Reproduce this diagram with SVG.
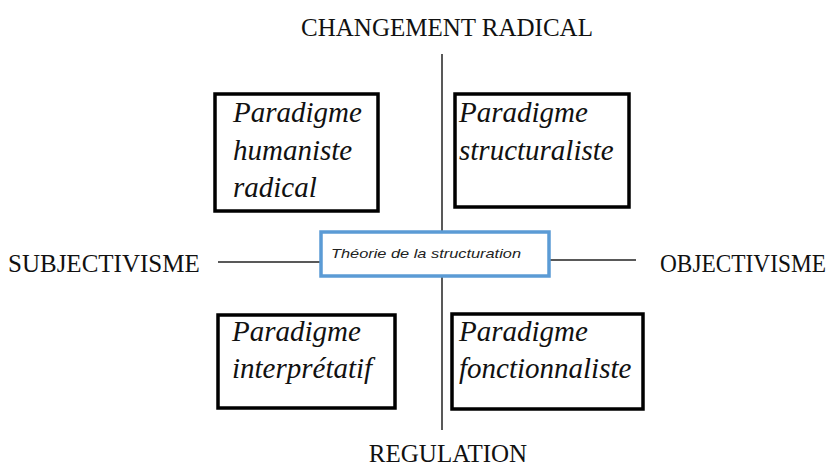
<svg xmlns="http://www.w3.org/2000/svg" width="838" height="470" viewBox="0 0 838 470">
<style>
.axis{font-family:"Liberation Serif",serif;font-size:25px;fill:#111;}
.pt{font-family:"Liberation Serif",serif;font-size:29px;font-style:italic;fill:#111;}
.box{fill:#fff;stroke:#000;stroke-width:3.5;}
.line{stroke:#222;stroke-width:1.5;fill:none;}
.center{fill:#fff;stroke:#5b9bd5;stroke-width:3.5;}
.ct{font-family:"Liberation Sans",sans-serif;font-size:13px;font-style:italic;fill:#222;}
</style>
<rect width="838" height="470" fill="#fff"/>
<g id="connectors">
<line class="line" x1="442" y1="54" x2="442" y2="430"/>
<line class="line" x1="218" y1="262" x2="320" y2="262"/>
<line class="line" x1="549" y1="260" x2="636" y2="260"/>
</g>
<g id="label-top"><text class="axis" x="447" y="36" text-anchor="middle">CHANGEMENT RADICAL</text></g>
<g id="label-left"><text class="axis" x="8" y="272">SUBJECTIVISME</text></g>
<g id="label-right"><text class="axis" x="660" y="272" font-size="24" textLength="166" lengthAdjust="spacingAndGlyphs">OBJECTIVISME</text></g>
<g id="label-bottom"><text class="axis" x="448" y="462" text-anchor="middle">REGULATION</text></g>
<g id="humaniste">
<rect class="box" x="215" y="94" width="163" height="117"/>
<text class="pt" x="233" y="122">Paradigme</text>
<text class="pt" x="233" y="160">humaniste</text>
<text class="pt" x="233" y="197">radical</text>
</g>
<g id="structuraliste">
<rect class="box" x="455" y="94" width="174" height="113"/>
<text class="pt" x="459" y="122">Paradigme</text>
<text class="pt" x="459" y="160">structuraliste</text>
</g>
<g id="interpretatif">
<rect class="box" x="218" y="315" width="177" height="93"/>
<text class="pt" x="232" y="341">Paradigme</text>
<text class="pt" x="232" y="378">interprétatif</text>
</g>
<g id="fonctionnaliste">
<rect class="box" x="452" y="314" width="191" height="95"/>
<text class="pt" x="459" y="341">Paradigme</text>
<text class="pt" x="459" y="378">fonctionnaliste</text>
</g>
<g id="structuration">
<rect class="center" x="321" y="232" width="228" height="44"/>
<text class="ct" x="331" y="258" textLength="190" lengthAdjust="spacingAndGlyphs">Théorie de la structuration</text>
</g>
</svg>
